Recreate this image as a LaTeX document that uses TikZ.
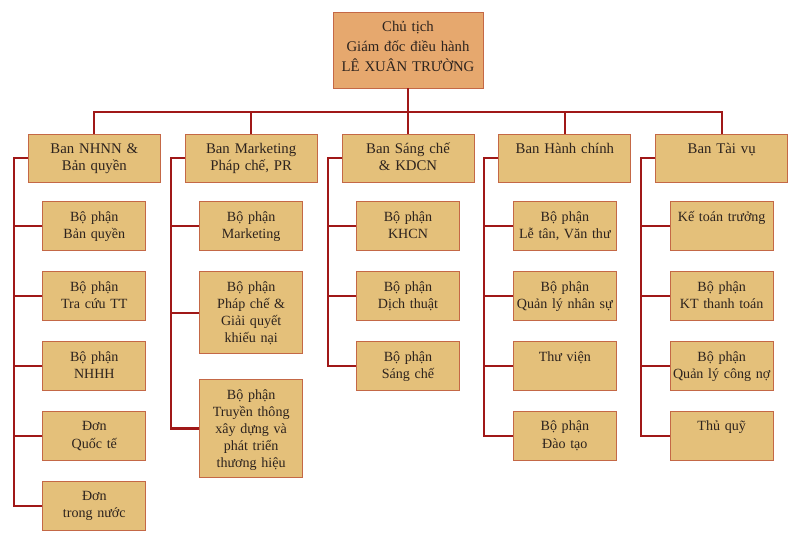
\documentclass[tikz,border=0pt]{standalone}
\usepackage{fontspec}
\setmainfont{Liberation Serif}
\usetikzlibrary{positioning}
\definecolor{headfill}{RGB}{230,168,110}
\definecolor{banfill}{RGB}{228,192,122}
\definecolor{boxline}{RGB}{196,104,70}
\definecolor{linkred}{RGB}{160,24,24}
\definecolor{inkgray}{RGB}{45,35,30}

\begin{document}
\begin{tikzpicture}[
    node distance=0.5cm and 0.6cm,
    box/.style={draw=boxline, line width=0.6pt, align=center, inner xsep=0pt, inner ysep=0pt, text=inkgray},
    head/.style={box, fill=headfill, text width=3.75cm, font=\fontsize{10.5}{14.5}\selectfont, text height=0.475cm, text depth=1.425cm},
    ban/.style={box, fill=banfill, text width=3.3cm, font=\fontsize{10.5}{12.8}\selectfont, text height=0.475cm, text depth=0.725cm},
    unit/.style={box, fill=banfill, text width=2.575cm, font=\fontsize{10}{12.2}\selectfont, text height=0.49cm, text depth=0.735cm},
    link/.style={draw=linkred, line width=1.5pt}
  ]
  \useasboundingbox (0,0) rectangle (20,-13.45);

  % Top level
  \node[head] (chair) at (10.2,-1.25) {Chủ tịch\\Giám đốc điều hành\\LÊ XUÂN TRƯỜNG};

  % Boards
  \node[ban] (sc) at (10.2,-3.95) {Ban Sáng chế\\\& KDCN};
  \node[ban, left=of sc] (mkt) {Ban Marketing\\Pháp chế, PR};
  \node[ban, left=of mkt] (nhnn) {Ban NHNN \&\\Bản quyền};
  \node[ban, right=of sc] (hc) {Ban Hành chính};
  \node[ban, right=of hc] (tv) {Ban Tài vụ};

  % Units under each board
  \node[unit, below=0.475cm of nhnn] (bq) {Bộ phận\\Bản quyền};
  \node[unit, below=of bq] (tc) {Bộ phận\\Tra cứu TT};
  \node[unit, below=of tc] (nhhh) {Bộ phận\\NHHH};
  \node[unit, below=of nhhh] (dqt) {Đơn\\Quốc tế};
  \node[unit, below=of dqt] (dtn) {Đơn\\trong nước};

  \node[unit, below=0.475cm of mkt] (mk) {Bộ phận\\Marketing};
  \node[unit, below=of mk, text depth=1.56cm] (pc) {Bộ phận\\Pháp chế \&\\Giải quyết\\khiếu nại};
  \node[unit, below=0.625cm of pc, text depth=1.96cm] (tt) {Bộ phận\\Truyền thông\\xây dựng và\\phát triển\\thương hiệu};

  \node[unit, below=0.475cm of sc] (khcn) {Bộ phận\\KHCN};
  \node[unit, below=of khcn] (dt) {Bộ phận\\Dịch thuật};
  \node[unit, below=of dt] (scu) {Bộ phận\\Sáng chế};

  \node[unit, below=0.475cm of hc] (lt) {Bộ phận\\Lễ tân, Văn thư};
  \node[unit, below=of lt] (qlns) {Bộ phận\\Quản lý nhân sự};
  \node[unit, below=of qlns] (thv) {Thư viện};
  \node[unit, below=of thv] (daot) {Bộ phận\\Đào tạo};

  \node[unit, below=0.475cm of tv] (ktt) {Kế toán trưởng};
  \node[unit, below=of ktt] (kttt) {Bộ phận\\KT thanh toán};
  \node[unit, below=of kttt] (cn) {Bộ phận\\Quản lý công nợ};
  \node[unit, below=of cn] (tq) {Thủ quỹ};

  % Tree from the chair
  \draw[link] (chair.south) -- ++(0,-0.6) coordinate (bus);
  \draw[link] (nhnn.north) |- (bus) -| (tv.north);
  \foreach \b in {mkt,sc,hc}
    \draw[link] (\b.north) -- (\b.north |- bus);

  % Brackets down the left side
  \foreach \b/\last/\units in {nhnn/dtn/{bq,tc,nhhh,dqt}, mkt/tt/{mk,pc}, sc/scu/{khcn,dt}, hc/daot/{lt,qlns,thv}, tv/tq/{ktt,kttt,cn}} {
    \draw[link] (\b.west) -- ++(-0.35,0) coordinate (\b-l) |- (\last.west);
    \foreach \u in \units
      \draw[link] (\u.west) -- (\u.west -| \b-l);
  }

\end{tikzpicture}
\end{document}
